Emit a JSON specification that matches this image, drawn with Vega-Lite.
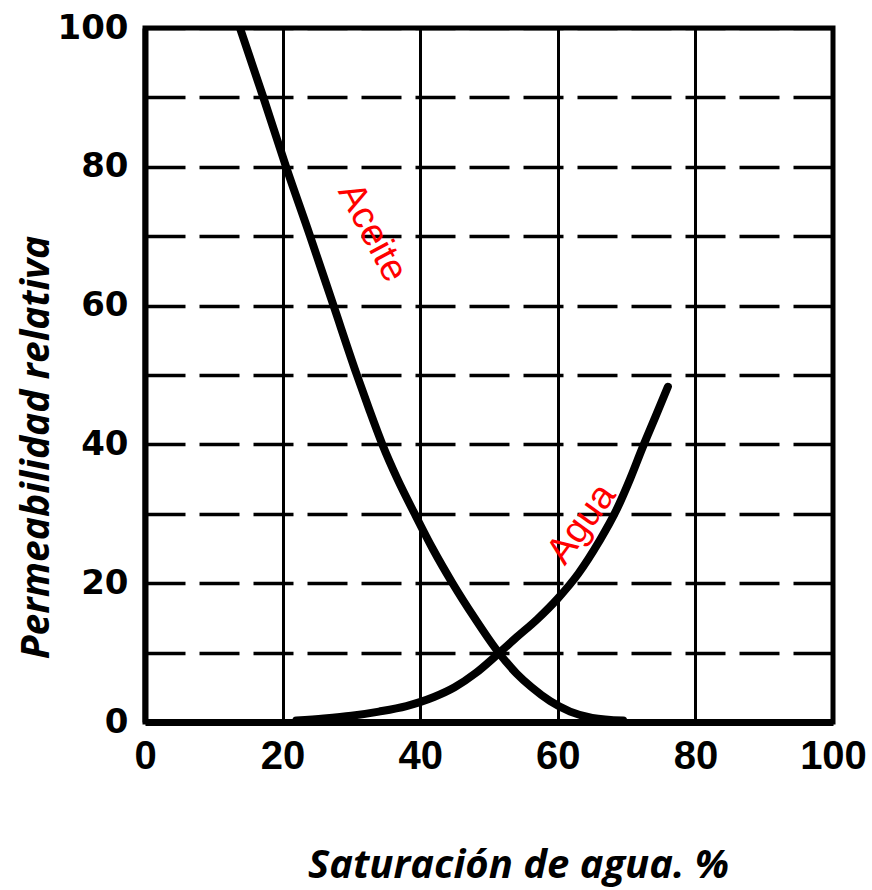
{
  "$schema": "https://vega.github.io/schema/vega-lite/v6.json",
  "width": 688,
  "height": 694,
  "autosize": {"type": "none"},
  "padding": {"left": 145, "top": 28, "right": 39, "bottom": 168},
  "background": "white",
  "config": {
    "view": {"stroke": "black", "strokeWidth": 5}
  },
  "datasets": {
    "curves": [
      {"fase": "Aceite", "sw": 13.8, "kr": 100},
      {"fase": "Aceite", "sw": 17.2, "kr": 90},
      {"fase": "Aceite", "sw": 20.5, "kr": 80},
      {"fase": "Aceite", "sw": 24.0, "kr": 70},
      {"fase": "Aceite", "sw": 27.4, "kr": 60},
      {"fase": "Aceite", "sw": 30.8, "kr": 50},
      {"fase": "Aceite", "sw": 32.6, "kr": 45},
      {"fase": "Aceite", "sw": 34.5, "kr": 40},
      {"fase": "Aceite", "sw": 36.7, "kr": 35},
      {"fase": "Aceite", "sw": 39.2, "kr": 30},
      {"fase": "Aceite", "sw": 41.8, "kr": 25},
      {"fase": "Aceite", "sw": 44.7, "kr": 20},
      {"fase": "Aceite", "sw": 47.9, "kr": 15},
      {"fase": "Aceite", "sw": 51.4, "kr": 10},
      {"fase": "Aceite", "sw": 54.0, "kr": 7},
      {"fase": "Aceite", "sw": 56.2, "kr": 5},
      {"fase": "Aceite", "sw": 58.9, "kr": 3},
      {"fase": "Aceite", "sw": 61.8, "kr": 1.5},
      {"fase": "Aceite", "sw": 65.0, "kr": 0.6},
      {"fase": "Aceite", "sw": 69.5, "kr": 0.2},
      {"fase": "Agua", "sw": 22, "kr": 0.2},
      {"fase": "Agua", "sw": 26, "kr": 0.5},
      {"fase": "Agua", "sw": 30, "kr": 0.9},
      {"fase": "Agua", "sw": 34, "kr": 1.5},
      {"fase": "Agua", "sw": 38, "kr": 2.3},
      {"fase": "Agua", "sw": 42, "kr": 3.6},
      {"fase": "Agua", "sw": 45, "kr": 5.0},
      {"fase": "Agua", "sw": 48, "kr": 7.0},
      {"fase": "Agua", "sw": 51.3, "kr": 9.8},
      {"fase": "Agua", "sw": 54, "kr": 12.2},
      {"fase": "Agua", "sw": 57, "kr": 14.8},
      {"fase": "Agua", "sw": 60, "kr": 17.8},
      {"fase": "Agua", "sw": 63, "kr": 21.4},
      {"fase": "Agua", "sw": 66, "kr": 26},
      {"fase": "Agua", "sw": 68.5, "kr": 30.5},
      {"fase": "Agua", "sw": 70.5, "kr": 35},
      {"fase": "Agua", "sw": 72.3, "kr": 39.5},
      {"fase": "Agua", "sw": 74.2, "kr": 44},
      {"fase": "Agua", "sw": 76, "kr": 48.3}
    ],
    "labels": [
      {"fase": "Aceite", "sw": 33.0, "kr": 70.5},
      {"fase": "Agua", "sw": 63.5, "kr": 28.5}
    ]
  },
  "layer": [
    {
      "data": {"name": "curves"},
      "mark": {"type": "line", "color": "black", "strokeWidth": 8, "interpolate": "monotone", "strokeCap": "round", "clip": true},
      "encoding": {
        "x": {
          "field": "sw", "type": "quantitative",
          "scale": {"domain": [0, 100], "nice": false},
          "axis": {
            "values": [0, 20, 40, 60, 80, 100],
            "grid": true, "gridColor": "black", "gridWidth": 3, "gridOpacity": 1,
            "domainColor": "black", "domainWidth": 7,
            "ticks": false,
            "labelFont": "Liberation Sans", "labelFontSize": 40, "labelFontWeight": "bold", "labelColor": "black",
            "labelPadding": 14, "labelFlush": false,
            "title": "Saturación de agua. %",
            "titleFont": "Open Sans", "titleFontStyle": "italic", "titleFontWeight": "bold", "titleFontSize": 40, "titleColor": "black",
            "titleX": 373, "titleY": 123, "titleBaseline": "top", "titleAlign": "center"
          }
        },
        "y": {
          "field": "kr", "type": "quantitative",
          "scale": {"domain": [0, 100], "nice": false},
          "axis": {
            "values": [0, 10, 20, 30, 40, 50, 60, 70, 80, 90, 100],
            "labelExpr": "datum.value % 20 === 0 ? datum.label : ''",
            "grid": true, "gridColor": "black", "gridWidth": 3.5, "gridOpacity": 1, "gridDash": [40, 14],
            "domainColor": "black", "domainWidth": 6,
            "ticks": false,
            "labelFont": "DejaVu Sans", "labelFontSize": 34, "labelFontWeight": "bold", "labelColor": "black",
            "labelPadding": 17,
            "title": "Permeabilidad relativa",
            "titleFont": "Open Sans", "titleFontStyle": "italic", "titleFontWeight": "bold", "titleFontSize": 39, "titleColor": "black",
            "titleX": -109, "titleY": 419, "titleBaseline": "middle", "titleAlign": "center", "titleAngle": -90
          }
        },
        "detail": {"field": "fase", "type": "nominal"}
      }
    },
    {
      "data": {"name": "labels"},
      "transform": [{"filter": "datum.fase === 'Aceite'"}],
      "mark": {"type": "text", "color": "red", "font": "Liberation Sans", "fontSize": 38, "angle": 62, "align": "center", "baseline": "middle"},
      "encoding": {
        "x": {"field": "sw", "type": "quantitative"},
        "y": {"field": "kr", "type": "quantitative"},
        "text": {"field": "fase"}
      }
    },
    {
      "data": {"name": "labels"},
      "transform": [{"filter": "datum.fase === 'Agua'"}],
      "mark": {"type": "text", "color": "red", "font": "Liberation Sans", "fontSize": 38, "angle": -54, "align": "center", "baseline": "middle"},
      "encoding": {
        "x": {"field": "sw", "type": "quantitative"},
        "y": {"field": "kr", "type": "quantitative"},
        "text": {"field": "fase"}
      }
    }
  ]
}
